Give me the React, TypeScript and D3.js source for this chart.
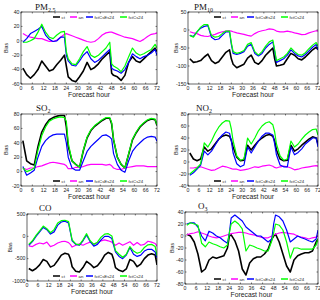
import React from 'react';
import * as d3 from 'd3';

// forecast hours sampled for every series
const hours = [1, 3, 5, 7, 9, 11, 13, 15, 17, 19, 21, 23, 24, 25, 27, 29, 31, 33, 35, 37, 39, 41, 43, 45, 47, 48, 49, 51, 53, 55, 57, 59, 61, 63, 65, 67, 69, 71, 72];
const xTicks = [0, 6, 12, 18, 24, 30, 36, 42, 48, 54, 60, 66, 72];
const seriesNames = ['ct', 'an', 'fctCsEs24', 'fctCs24'];
const seriesColors = ['#000000', '#ff00ff', '#0000ff', '#00ff00'];

// PM2.5
const pm25Ct = [-38, -47, -52, -47, -40, -28, -35, -42, -40, -33, -27, -20, -35, -50, -55, -57, -50, -42, -30, -40, -37, -32, -25, -20, -15, -45, -48, -50, -55, -48, -30, -22, -28, -30, -25, -20, -15, -10, -15];
const pm25An = [10, 7, 5, 4, 3, 3, 1, -1, -1, 1, 5, 9, 10, 9, 7, 5, 3, 1, -1, -2, -1, 3, 8, 11, 12, 12, 11, 9, 7, 5, 4, 3, 1, -1, 2, 6, 9, 10, 11];
const pm25CsEs = [-2, 3, 10, 13, 16, 20, 8, 2, -1, 0, 5, 5, -20, -28, -34, -35, -28, -20, -15, -25, -30, -27, -22, -17, -12, -38, -40, -42, -45, -40, -30, -18, -22, -25, -22, -20, -17, -12, -20];
const pm25Cs = [-2, -2, 0, 3, 12, 23, 12, 5, 3, 8, 12, 13, -15, -25, -32, -33, -25, -15, -8, -20, -23, -20, -15, -10, -2, -32, -35, -38, -43, -35, -22, -10, -17, -20, -18, -15, -12, -5, -10];

// PM10
const pm10Ct = [-80, -90, -88, -85, -75, -67, -85, -93, -88, -75, -62, -55, -80, -95, -105, -100, -95, -78, -70, -90, -95, -85, -70, -60, -50, -80, -100, -98, -95, -80, -65, -70, -80, -83, -75, -65, -55, -48, -55];
const pm10An = [-5, -8, -10, -15, -17, -18, -15, -12, -8, -5, -3, -2, -3, -5, -8, -10, -12, -15, -17, -10, -5, -2, 0, 3, 2, 0, -3, -5, -5, -3, -5, -8, -10, -13, -12, -8, -5, -2, -3];
const pm10CsEs = [-15, -18, -5, 5, 10, 12, -20, -27, -25, -15, -5, -5, -40, -65, -68, -65, -60, -45, -40, -65, -72, -65, -50, -40, -33, -60, -90, -85, -80, -70, -55, -65, -72, -75, -68, -58, -48, -40, -55];
const pm10Cs = [-15, -20, -5, 8, 15, 15, -15, -20, -18, -10, -3, -3, -35, -60, -65, -62, -57, -40, -35, -60, -70, -60, -45, -33, -28, -55, -85, -80, -75, -65, -50, -60, -68, -70, -63, -52, -42, -35, -45];

// SO2
const so2Ct = [43, 15, 11, 9, 35, 55, 65, 72, 75, 77, 78, 78, 62, 35, 15, 10, 6, 29, 47, 57, 63, 67, 71, 74, 74, 66, 44, 20, 10, 5, 24, 44, 54, 62, 67, 71, 73, 72, 64];
const so2An = [5, 3, 5, 5, 7, 8, 10, 12, 13, 12, 11, 10, 8, 4, 4, 6, 6, 7, 9, 10, 10, 10, 10, 9, 10, 8, 5, 3, 3, 5, 6, 7, 8, 8, 8, 7, 7, 7, 7];
const so2CsEs = [7, -5, -2, 2, 20, 35, 43, 48, 51, 52, 52, 52, 40, 20, 5, 2, 2, 15, 28, 35, 40, 45, 50, 51, 48, 45, 25, 10, 2, -1, 15, 28, 35, 40, 45, 48, 49, 48, 42];
const so2Cs = [5, 0, 2, 5, 30, 50, 62, 70, 73, 75, 76, 75, 70, 40, 15, 10, 6, 30, 48, 58, 64, 68, 72, 75, 75, 68, 45, 20, 10, 5, 25, 45, 55, 63, 68, 72, 74, 73, 65];

// NO2
const no2Ct = [15, 5, 2, 5, 25, 18, 22, 30, 38, 43, 45, 43, 36, 25, 8, 2, 3, 28, 20, 28, 35, 40, 44, 46, 43, 35, 20, 5, 2, 3, 28, 18, 22, 28, 33, 38, 42, 40, 30];
const no2An = [-10, -10, -9, -8, -10, -12, -14, -13, -10, -7, -8, -10, -11, -12, -12, -14, -13, -12, -10, -8, -9, -7, -6, -5, -7, -9, -10, -8, -7, -8, -10, -13, -12, -10, -9, -8, -7, -6, -7];
const no2CsEs = [-22, -18, -12, -5, 18, 12, 18, 28, 38, 45, 50, 48, 35, 15, -3, -8, -5, 25, 15, 25, 35, 43, 48, 48, 45, 30, 12, -5, -8, -8, 25, 12, 16, 22, 30, 35, 40, 40, 25];
const no2Cs = [-20, -15, -10, -3, 32, 25, 35, 48, 58, 65, 69, 68, 55, 35, 10, 3, 5, 40, 30, 40, 52, 60, 65, 67, 62, 50, 30, 10, 3, 5, 35, 25, 30, 38, 45, 50, 54, 55, 45];

// CO
const coCt = [-720, -770, -720, -640, -520, -560, -690, -650, -540, -420, -380, -400, -500, -680, -780, -800, -700, -560, -620, -700, -660, -560, -420, -360, -400, -520, -700, -760, -790, -730, -520, -560, -680, -620, -500, -420, -390, -420, -640];
const coAn = [-215, -230, -180, -150, -170, -130, -230, -200, -150, -120, -110, -140, -180, -240, -200, -170, -200, -160, -130, -170, -150, -100, -80, -100, -130, -170, -200, -150, -200, -160, -120, -200, -140, -200, -180, -110, -130, -160, -220];
const coCsEs = [-200, -120, 0, 100, 200, 150, 50, 100, 250, 320, 340, 300, 100, -100, -180, -200, -100, 30, -120, -220, -180, -80, 0, 0, -50, -200, -350, -450, -500, -420, -250, -400, -450, -420, -330, -290, -290, -350, -480];
const coCs = [-180, -100, 20, 120, 230, 170, 80, 150, 300, 350, 360, 330, 120, -80, -170, -190, -80, 60, -100, -180, -130, -20, 50, 60, 10, -150, -320, -400, -470, -400, -230, -330, -380, -350, -250, -190, -180, -230, -440];

// O3
const o3Ct = [3, 0, -10, -30, -60, -55, -40, -35, -37, -35, -33, -20, 0, 2, -8, -25, -55, -65, -45, -38, -35, -35, -30, -22, -5, 0, 3, -10, -30, -50, -60, -40, -33, -30, -28, -28, -25, -10, -5];
const o3An = [2, 4, 5, 7, 5, 3, 0, -2, -3, -2, 0, 2, 3, 4, 5, 6, 6, 5, 3, 2, 0, -2, -3, -3, 0, 2, 3, 5, 6, 5, 4, 3, 0, -2, -3, -5, -3, -2, 0];
const o3CsEs = [20, 22, 22, 15, 0, -8, 8, 5, 0, -3, -8, -12, 5, 30, 35, 30, 25, 15, 10, 5, 0, 0, -5, -10, -5, 20, 35, 32, 25, 10, -10, -5, 0, -3, -5, -8, -10, -5, 10];
const o3Cs = [18, 22, 20, 18, -12, -18, -10, -13, -15, -18, -20, -15, 5, 20, 25, 20, 12, -25, -15, -17, -20, -22, -25, -25, -8, 5, 20, 18, 10, -10, -37, -20, -20, -22, -22, -22, -22, -15, -5];

interface Panel {
  main: string;
  sub: string;
  series: number[][];
  yTicks: number[];
  x0: number; x1: number; y0: number; y1: number;
  legendTop: boolean;
  labelX: number;
  titleX: number; titleY: number;
}

const panels: Panel[] = [
  { main: 'PM', sub: '2.5', series: [pm25Ct, pm25An, pm25CsEs, pm25Cs], yTicks: [-60, -40, -20, 0, 20, 40],
    x0: 21, x1: 157, y0: 12, y1: 84, legendTop: true, labelX: 8, titleX: 35, titleY: 10 },
  { main: 'PM', sub: '10', series: [pm10Ct, pm10An, pm10CsEs, pm10Cs], yTicks: [-150, -100, -50, 0, 50],
    x0: 188, x1: 318, y0: 12, y1: 84, legendTop: true, labelX: 178, titleX: 194, titleY: 10 },
  { main: 'SO', sub: '2', series: [so2Ct, so2An, so2CsEs, so2Cs], yTicks: [-20, 0, 20, 40, 60, 80],
    x0: 21, x1: 157, y0: 114, y1: 186, legendTop: false, labelX: 8, titleX: 36, titleY: 111 },
  { main: 'NO', sub: '2', series: [no2Ct, no2An, no2CsEs, no2Cs], yTicks: [-40, -20, 0, 20, 40, 60, 80],
    x0: 188, x1: 318, y0: 114, y1: 186, legendTop: false, labelX: 178, titleX: 196, titleY: 111 },
  { main: 'CO', sub: '', series: [coCt, coAn, coCsEs, coCs], yTicks: [-1000, -500, 0, 500],
    x0: 27, x1: 157, y0: 214, y1: 281, legendTop: false, labelX: 12, titleX: 39, titleY: 211 },
  { main: 'O', sub: '3', series: [o3Ct, o3An, o3CsEs, o3Cs], yTicks: [-80, -60, -40, -20, 0, 20, 40],
    x0: 185, x1: 318, y0: 212, y1: 284, legendTop: false, labelX: 174, titleX: 198, titleY: 209 },
];

const legendOffsets = [-104, -87, -71, -37];
const sans = 'Liberation Sans, Arial, sans-serif';

const PanelView: React.FC<{ p: Panel }> = ({ p }) => {
  const x = d3.scaleLinear().domain([0, 72]).range([p.x0, p.x1]);
  const yDomain = d3.extent(p.yTicks) as [number, number];
  const y = d3.scaleLinear().domain(yDomain).range([p.y1, p.y0]);
  const line = d3.line<number>().x((_, i) => x(hours[i])).y(v => y(v));
  const legendY = p.legendTop ? p.y0 + 5 : p.y1 - 5;
  const clipId = `clip-${p.x0}-${p.y0}`;
  return (
    <g>
      <defs>
        <clipPath id={clipId}>
          <rect x={p.x0} y={p.y0} width={p.x1 - p.x0} height={p.y1 - p.y0} />
        </clipPath>
      </defs>
      <g clipPath={`url(#${clipId})`}>
        {p.series.map((s, i) => (
          <path key={i} d={line(s) || ''} fill="none" stroke={seriesColors[i]}
            strokeWidth={i === 0 ? 1.6 : 1.2} strokeLinejoin="round" />
        ))}
      </g>
      <rect x={p.x0} y={p.y0} width={p.x1 - p.x0} height={p.y1 - p.y0} fill="none" stroke="#000" strokeWidth={0.6} />
      {xTicks.map(t => (
        <g key={'x' + t}>
          <line x1={x(t)} x2={x(t)} y1={p.y1} y2={p.y1 - 1.5} stroke="#000" strokeWidth={0.5} />
          <line x1={x(t)} x2={x(t)} y1={p.y0} y2={p.y0 + 1.5} stroke="#000" strokeWidth={0.5} />
          <text x={x(t)} y={p.y1 + 6} fontSize={5.2} textAnchor="middle" fontFamily={sans} fill="#222">{t}</text>
        </g>
      ))}
      {p.yTicks.map(t => (
        <g key={'y' + t}>
          <line x1={p.x0} x2={p.x0 + 1.5} y1={y(t)} y2={y(t)} stroke="#000" strokeWidth={0.5} />
          <line x1={p.x1} x2={p.x1 - 1.5} y1={y(t)} y2={y(t)} stroke="#000" strokeWidth={0.5} />
          <text x={p.x0 - 1.5} y={y(t) + 1.8} fontSize={5.2} textAnchor="end" fontFamily={sans} fill="#222">{t}</text>
        </g>
      ))}
      <text x={(p.x0 + p.x1) / 2} y={p.y1 + 13} fontSize={6.8} textAnchor="middle" fontFamily={sans} fill="#222">Forecast hour</text>
      <text transform={`translate(${p.labelX},${(p.y0 + p.y1) / 2}) rotate(-90)`} fontSize={5.2} textAnchor="middle" fontFamily={sans} fill="#222">Bias</text>
      <text x={p.titleX} y={p.titleY} fontSize={9} fontFamily="Liberation Serif, Times New Roman, serif" fill="#111">
        {p.main}
        {p.sub && <tspan fontSize={6} dy={1.5}>{p.sub}</tspan>}
      </text>
      {seriesNames.map((n, i) => {
        const lx = p.x1 + legendOffsets[i];
        return (
          <g key={n}>
            <line x1={lx} x2={lx + 7} y1={legendY} y2={legendY} stroke={seriesColors[i]} strokeWidth={1.5} />
            <text x={lx + 8.5} y={legendY + 1.5} fontSize={4.3} fontFamily={sans} fill="#222">{n}</text>
          </g>
        );
      })}
    </g>
  );
};

export default function App() {
  return (
    <svg width={320} height={300} style={{ position: 'absolute', left: 0, top: 0, background: '#fff' }}>
      <rect width={320} height={300} fill="#fff" />
      {panels.map((p, i) => <PanelView key={i} p={p} />)}
    </svg>
  );
}
